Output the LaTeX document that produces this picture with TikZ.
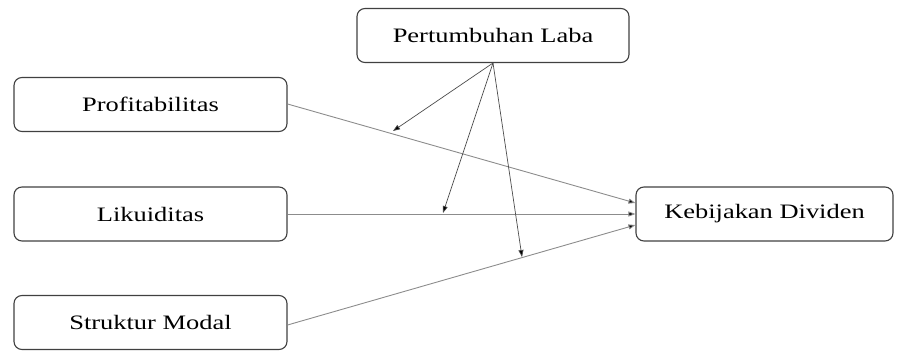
\documentclass[tikz,border=0pt]{standalone}
\usepackage{fontspec}
\setmainfont[FakeStretch=1.29]{Liberation Serif}
\usetikzlibrary{arrows.meta}
\tikzset{
  varbox/.style={draw=black!75, line width=1.1pt, rounded corners=8pt, minimum height=54pt, inner sep=0pt, font=\fontsize{20.5pt}{24pt}\selectfont},
  link/.style={draw=black!45, line width=0.9pt, -{Triangle[length=7pt,width=5pt,fill=black]}},
  modlink/.style={draw=black!70, line width=0.7pt, -{Triangle[length=7pt,width=5pt,fill=black]}}
}
\begin{document}
\begin{tikzpicture}[x=1pt,y=-1pt]
\useasboundingbox (0,0) rectangle (897,352);
\node[varbox, minimum width=272pt] (pl) at (493,35.5) {Pertumbuhan Laba};
\node[varbox, minimum width=273pt] (pr) at (150.5,104.5) {Profitabilitas};
\node[varbox, minimum width=273pt] (li) at (150.5,214) {Likuiditas};
\node[varbox, minimum width=273pt] (sm) at (150.5,322.5) {Struktur Modal};
\node[varbox, minimum width=257pt] (kd) at (764.5,214) {Kebijakan Dividen};
\coordinate (plo) at (493,63);
\coordinate (m1) at (393,131);
\coordinate (m2) at (443,213);
\coordinate (m3) at (522,257);
\draw[link] (pr.east |- 0,104) -- (kd.west |- 0,203);
\draw[link] (li.east) -- (kd.west);
\draw[link] (sm.east |- 0,325) -- (kd.west |- 0,225);
\draw[modlink] (plo) -- (m1);
\draw[modlink] (plo) -- (m2);
\draw[modlink] (plo) -- (m3);
\end{tikzpicture}
\end{document}
